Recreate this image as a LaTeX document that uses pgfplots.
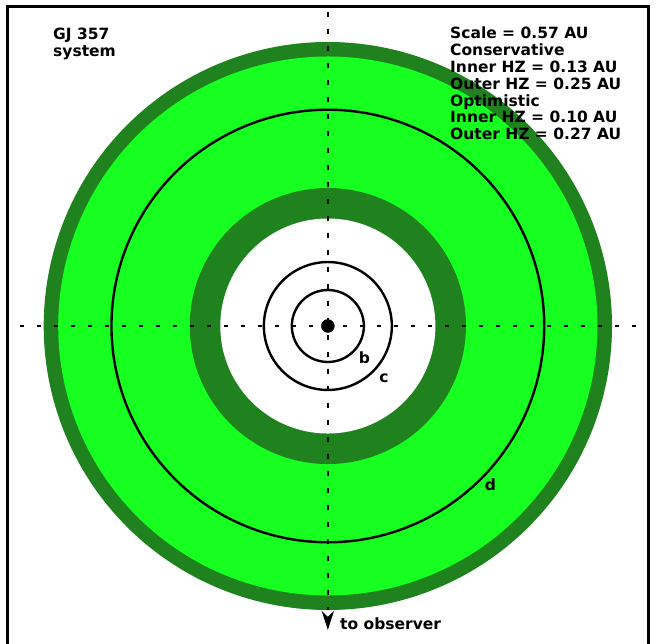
\documentclass[border=0pt]{standalone}
\usepackage{fontspec}
\setmainfont{DejaVu Sans}
\usepackage{pgfplots}
\pgfplotsset{compat=1.18}
\definecolor{dkgreen}{RGB}{32,130,30}
\definecolor{ltgreen}{RGB}{22,255,32}
\begin{document}
\begin{tikzpicture}[x=1pt,y=1pt]
\useasboundingbox (0,0) rectangle (657,-644);
\begin{axis}[
  at={(7.7pt,-646pt)}, anchor=south west,
  width=640.3pt, height=640pt, scale only axis,
  xmin=-0.30418, xmax=0.30418, ymin=-0.30418, ymax=0.30418,
  xtick=\empty, ytick=\empty,
  axis line style={line width=3pt, black},
  clip=true,
]
% habitable zone rings (radii in AU)
\addplot[fill=dkgreen, draw=none, domain=0:360, samples=241, variable=\t] ({0.2700*cos(t)},{0.2700*sin(t)}) -- cycle;
\addplot[fill=ltgreen, draw=none, domain=0:360, samples=241, variable=\t] ({0.2562*cos(t)},{0.2562*sin(t)}) -- cycle;
\addplot[fill=dkgreen, draw=none, domain=0:360, samples=241, variable=\t] ({0.1312*cos(t)},{0.1312*sin(t)}) -- cycle;
\addplot[fill=white, draw=none, domain=0:360, samples=241, variable=\t] ({0.1022*cos(t)},{0.1022*sin(t)}) -- cycle;
% orbits
\addplot[black, line width=2.4pt, domain=0:360, samples=241, variable=\t] ({0.2056*cos(t)},{0.2056*sin(t)});
\addplot[black, line width=2.4pt, domain=0:360, samples=181, variable=\t] ({0.0608*cos(t)},{0.0608*sin(t)});
\addplot[black, line width=2.4pt, domain=0:360, samples=121, variable=\t] ({0.0342*cos(t)},{0.0342*sin(t)});
% dotted axes
\addplot[black, line width=2pt, dash pattern=on 4pt off 13pt] coordinates {(-0.2925,0) (0.2925,0)};
\addplot[black, line width=2pt, dash pattern=on 5pt off 12pt] coordinates {(0,0.2985) (0,-0.270)};
% arrow head (to observer)
\addplot[fill=black, draw=black, line width=0.8pt] coordinates {(0,-0.2876) (-0.0050,-0.2722) (0,-0.2770) (0.0050,-0.2722)} -- cycle;
% star
\addplot[only marks, mark=*, mark size=6.5pt, black] coordinates {(0,0)};
% planet labels
\node[font=\bfseries\fontsize{15.5}{17}\selectfont] at (axis cs:0.0347,-0.0304) {b};
\node[font=\bfseries\fontsize{15.5}{17}\selectfont] at (axis cs:0.0532,-0.0494) {c};
\node[font=\bfseries\fontsize{15.5}{17}\selectfont] at (axis cs:0.1545,-0.1511) {d};
\end{axis}
\begin{scope}[every node/.style={anchor=base west, inner sep=0pt, font=\bfseries\fontsize{15.5}{17}\selectfont}]
\node at (53,-40) {GJ 357};
\node at (53,-57) {system};
\node at (450,-39) {Scale = 0.57 AU};
\node at (450,-56) {Conservative};
\node at (450,-73) {Inner HZ = 0.13 AU};
\node at (450,-90) {Outer HZ = 0.25 AU};
\node at (450,-107) {Optimistic};
\node at (450,-123) {Inner HZ = 0.10 AU};
\node at (450,-140) {Outer HZ = 0.27 AU};
\node at (340,-630) {to observer};
\end{scope}
\end{tikzpicture}
\end{document}
